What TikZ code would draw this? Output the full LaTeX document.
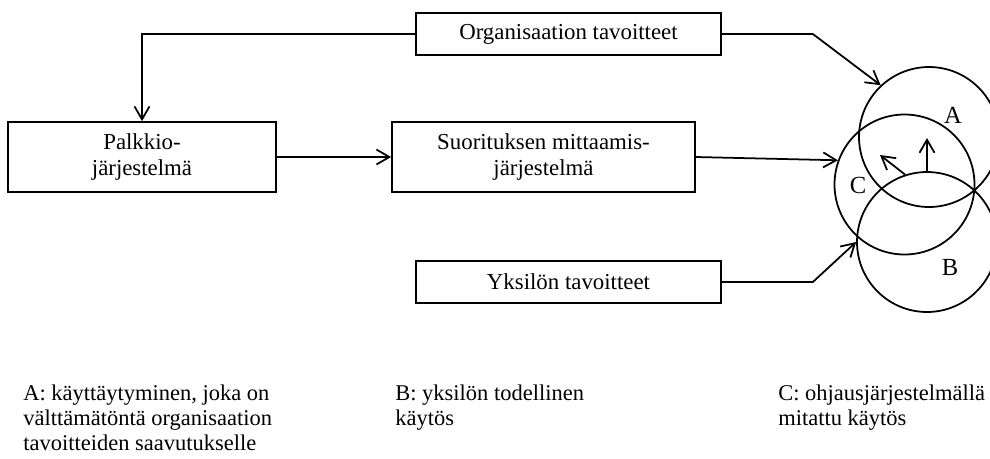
\documentclass[tikz,border=0pt]{standalone}
\usepackage{fontspec}
\setmainfont{Liberation Serif}
\usetikzlibrary{arrows.meta,positioning,shapes.geometric}

\begin{document}
\begin{tikzpicture}[
  x=0.02cm, y=-0.02cm,
  box/.style={
    rectangle,
    draw=black,
    line width=1pt,
    fill=white,
    align=center,
    inner sep=0pt,
    font=\fontsize{13}{14.8}\selectfont
  },
  goal/.style={box, minimum width=6.1cm, minimum height=0.84cm},
  system/.style={box, minimum height=1.4cm},
  area/.style={circle, draw=black, line width=1pt, minimum size=2.8cm, inner sep=0pt},
  flow/.style={-{Straight Barb[length=2.6mm,width=3mm]}, line width=1pt},
  tag/.style={font=\fontsize{14}{16}\selectfont},
  note/.style={anchor=north west, align=left, inner sep=0pt, font=\fontsize{12.8}{14.2}\selectfont}
]
\useasboundingbox (0,0) rectangle (990,458);

\node[goal] (orggoal) at (568.5,34) {Organisaation tavoitteet};
\node[system, minimum width=5.36cm] (reward) at (142,157) {Palkkio-\\järjestelmä};
\node[system, minimum width=6.06cm] (measure) at (543.5,157) {Suorituksen mittaamis-\\järjestelmä};
\node[goal] (owngoal) at (568.5,282) {Yksilön tavoitteet};

\node[area] (circA) at (929,137) {};
\node[area] (circC) at (904.5,184.5) {};
\node[area] (circB) at (927,242) {};

\node[tag] (tagA) at (953,115) {A};
\node[tag] (tagC) at (858,185) {C};
\node[tag] (tagB) at (950,267) {B};

\coordinate (upend) at (927,138);
\coordinate (leanend) at (880,155);

\draw[flow] (orggoal.west) -| (reward.north);
\draw[flow] (reward.east) -- (measure.west);
\draw[flow] (orggoal.east) -- ++(91,0) -- (circA.133);
\draw[flow] (measure.east) -- (circC.160);
\draw[flow] (owngoal.east) -- ++(91,0) -- (circB.west);
\draw[flow] (circB.north) -- (upend);
\draw[flow] (circB.108) -- (leanend);

\node[note] (noteA) at (23,385) {A: käyttäytyminen, joka on\\välttämätöntä organisaation\\tavoitteiden saavutukselle};
\node[note] (noteB) at (395,385) {B: yksilön todellinen\\käytös};
\node[note] (noteC) at (778,385) {C: ohjausjärjestelmällä\\mitattu käytös};

\end{tikzpicture}
\end{document}
